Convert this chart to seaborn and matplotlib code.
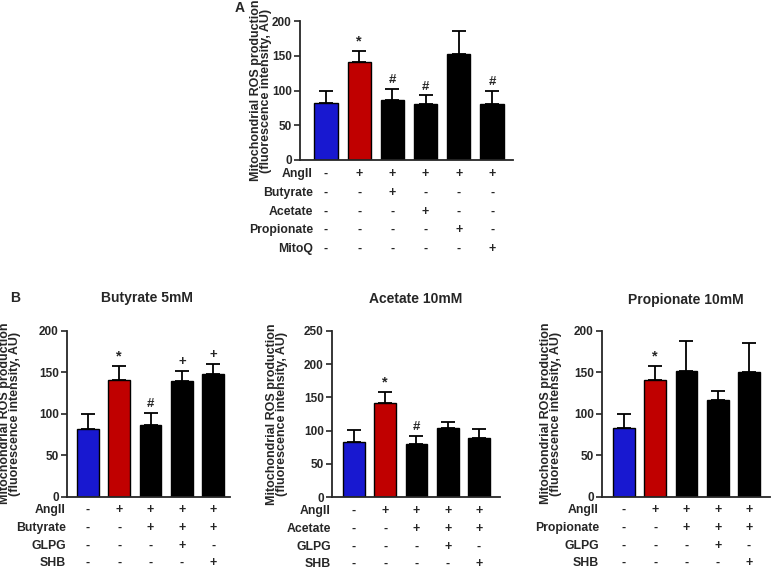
import matplotlib
matplotlib.use("Agg")
import matplotlib.pyplot as plt
import matplotlib.transforms as mtransforms
import seaborn as sns
import pandas as pd
import numpy as np

# ---------------- data ----------------
colors5 = ["#1818d0", "#c00000", "#000000", "#000000", "#000000"]
colors6 = ["#1818d0", "#c00000", "#000000", "#000000", "#000000", "#000000"]

# Panel A
a_values = [82, 141, 86, 81, 152, 80]
a_errors = [18, 16, 16, 12, 34, 19]
a_sig = ["", "*", "#", "#", "", "#"]
a_rows = ["AngII", "Butyrate", "Acetate", "Propionate", "MitoQ"]
a_signs = [
    ["-", "+", "+", "+", "+", "+"],
    ["-", "-", "+", "-", "-", "-"],
    ["-", "-", "-", "+", "-", "-"],
    ["-", "-", "-", "-", "+", "-"],
    ["-", "-", "-", "-", "-", "+"],
]

# Panel B - Butyrate 5mM
but_values = [82, 141, 86, 139, 148]
but_errors = [18, 16, 15, 13, 12]
but_sig = ["", "*", "#", "+", "+"]
but_rows = ["AngII", "Butyrate", "GLPG", "SHB"]

# Panel B - Acetate 10mM
ace_values = [83, 141, 80, 104, 89]
ace_errors = [18, 17, 12, 9, 13]
ace_sig = ["", "*", "#", "", ""]
ace_rows = ["AngII", "Acetate", "GLPG", "SHB"]

# Panel B - Propionate 10mM
pro_values = [83, 141, 152, 117, 150]
pro_errors = [17, 16, 35, 10, 35]
pro_sig = ["", "*", "", "", ""]
pro_rows = ["AngII", "Propionate", "GLPG", "SHB"]

b_signs = [
    ["-", "+", "+", "+", "+"],
    ["-", "-", "+", "+", "+"],
    ["-", "-", "-", "+", "-"],
    ["-", "-", "-", "-", "+"],
]

ylabel_text = "Mitochondrial ROS production\n(fluorescence intensity, AU)"

# ---------------- style ----------------
sns.set_style("ticks")
plt.rcParams["font.family"] = ["Liberation Sans", "DejaVu Sans"]
plt.rcParams["font.weight"] = "bold"

W, H = 772, 571
fig = plt.figure(figsize=(W / 100, H / 100), dpi=100)


def px_axes(left, right, top, bottom):
    return fig.add_axes([left / W, 1 - bottom / H, (right - left) / W, (bottom - top) / H])


def panel(ax, values, errors, sig, colors, ymax, ystep, xlim, rows, signs,
          row_offsets, label_dx, ylabel_x):
    n = len(values)
    df = pd.DataFrame({"grp": [f"g{i}" for i in range(n)], "val": values})
    sns.barplot(data=df, x="grp", y="val", hue="grp", palette=colors, legend=False,
                ax=ax, width=0.7, edgecolor="black", linewidth=1.0, saturation=1)
    ax.errorbar(np.arange(n), values, yerr=[np.zeros(n), errors], fmt="none",
                ecolor="black", elinewidth=1.3, capsize=5, capthick=1.3, zorder=1)
    for i, s in enumerate(sig):
        if s:
            ax.annotate(s, (i, values[i] + errors[i]), xytext=(0, 2),
                        textcoords="offset points", ha="center", va="bottom",
                        fontsize=9.5 if s != "*" else 10.5, fontweight="bold")
    ax.set_ylim(0, ymax)
    ax.set_xlim(*xlim)
    ax.set_yticks(np.arange(0, ymax + 1, ystep))
    ax.set_xticks([])
    ax.set_xlabel("")
    ax.set_ylabel("")
    sns.despine(ax=ax)
    for sp in ["left", "bottom"]:
        ax.spines[sp].set_linewidth(1.3)
    ax.tick_params(axis="y", length=4, width=1.2, labelsize=8.5, pad=2)
    for lab in ax.get_yticklabels():
        lab.set_fontweight("bold")
    # condition table
    for r, (name, off) in enumerate(zip(rows, row_offsets)):
        tr = ax.transAxes + mtransforms.ScaledTranslation(0, -off / 100, fig.dpi_scale_trans)
        trl = ax.transAxes + mtransforms.ScaledTranslation(label_dx / 100, -off / 100, fig.dpi_scale_trans)
        ax.text(0, 0, name, transform=trl, ha="right", va="center",
                fontsize=8.8, fontweight="bold")
        blend = mtransforms.blended_transform_factory(ax.transData, tr)
        for i, s in enumerate(signs[r]):
            ax.text(i, 0, s, transform=blend, ha="center", va="center",
                    fontsize=9, fontweight="bold")
    # y label
    fig.text(ylabel_x / W, 0.5, ylabel_text, rotation=90, ha="center", va="center",
             fontsize=9, fontweight="bold", linespacing=0.85,
             transform=mtransforms.blended_transform_factory(fig.transFigure, ax.transAxes))


# Panel A
axA = px_axes(300, 513, 21, 160)
panel(axA, a_values, a_errors, a_sig, colors6, 200, 50, (-0.78, 5.63), a_rows, a_signs,
      [14, 33, 52, 70, 89], 13, 261)
fig.text(240 / W, 1 - 8 / H, "A", ha="center", va="center", fontsize=10, fontweight="bold")

# Panel B
b_offsets = [13.5, 31.5, 49.5, 66.5]
axB1 = px_axes(67, 230, 330.7, 496.7)
panel(axB1, but_values, but_errors, but_sig, colors5, 200, 50, (-0.67, 4.54), but_rows, b_signs,
      b_offsets, -1, 10)
axB2 = px_axes(332, 500, 330.7, 497.3)
panel(axB2, ace_values, ace_errors, ace_sig, colors5, 250, 50, (-0.70, 4.67), ace_rows, b_signs,
      b_offsets, -1, 277)
axB3 = px_axes(602, 770, 330.7, 496.7)
panel(axB3, pro_values, pro_errors, pro_sig, colors5, 200, 50, (-0.70, 4.67), pro_rows, b_signs,
      b_offsets, -3, 551)

fig.text(15 / W, 1 - 298 / H, "B", ha="center", va="center", fontsize=10, fontweight="bold")
fig.text(147 / W, 1 - 298 / H, "Butyrate 5mM", ha="center", va="center", fontsize=10, fontweight="bold")
fig.text(416 / W, 1 - 299 / H, "Acetate 10mM", ha="center", va="center", fontsize=10, fontweight="bold")
fig.text(686 / W, 1 - 300 / H, "Propionate 10mM", ha="center", va="center", fontsize=10, fontweight="bold")

fig.savefig("out.png", dpi=100)
